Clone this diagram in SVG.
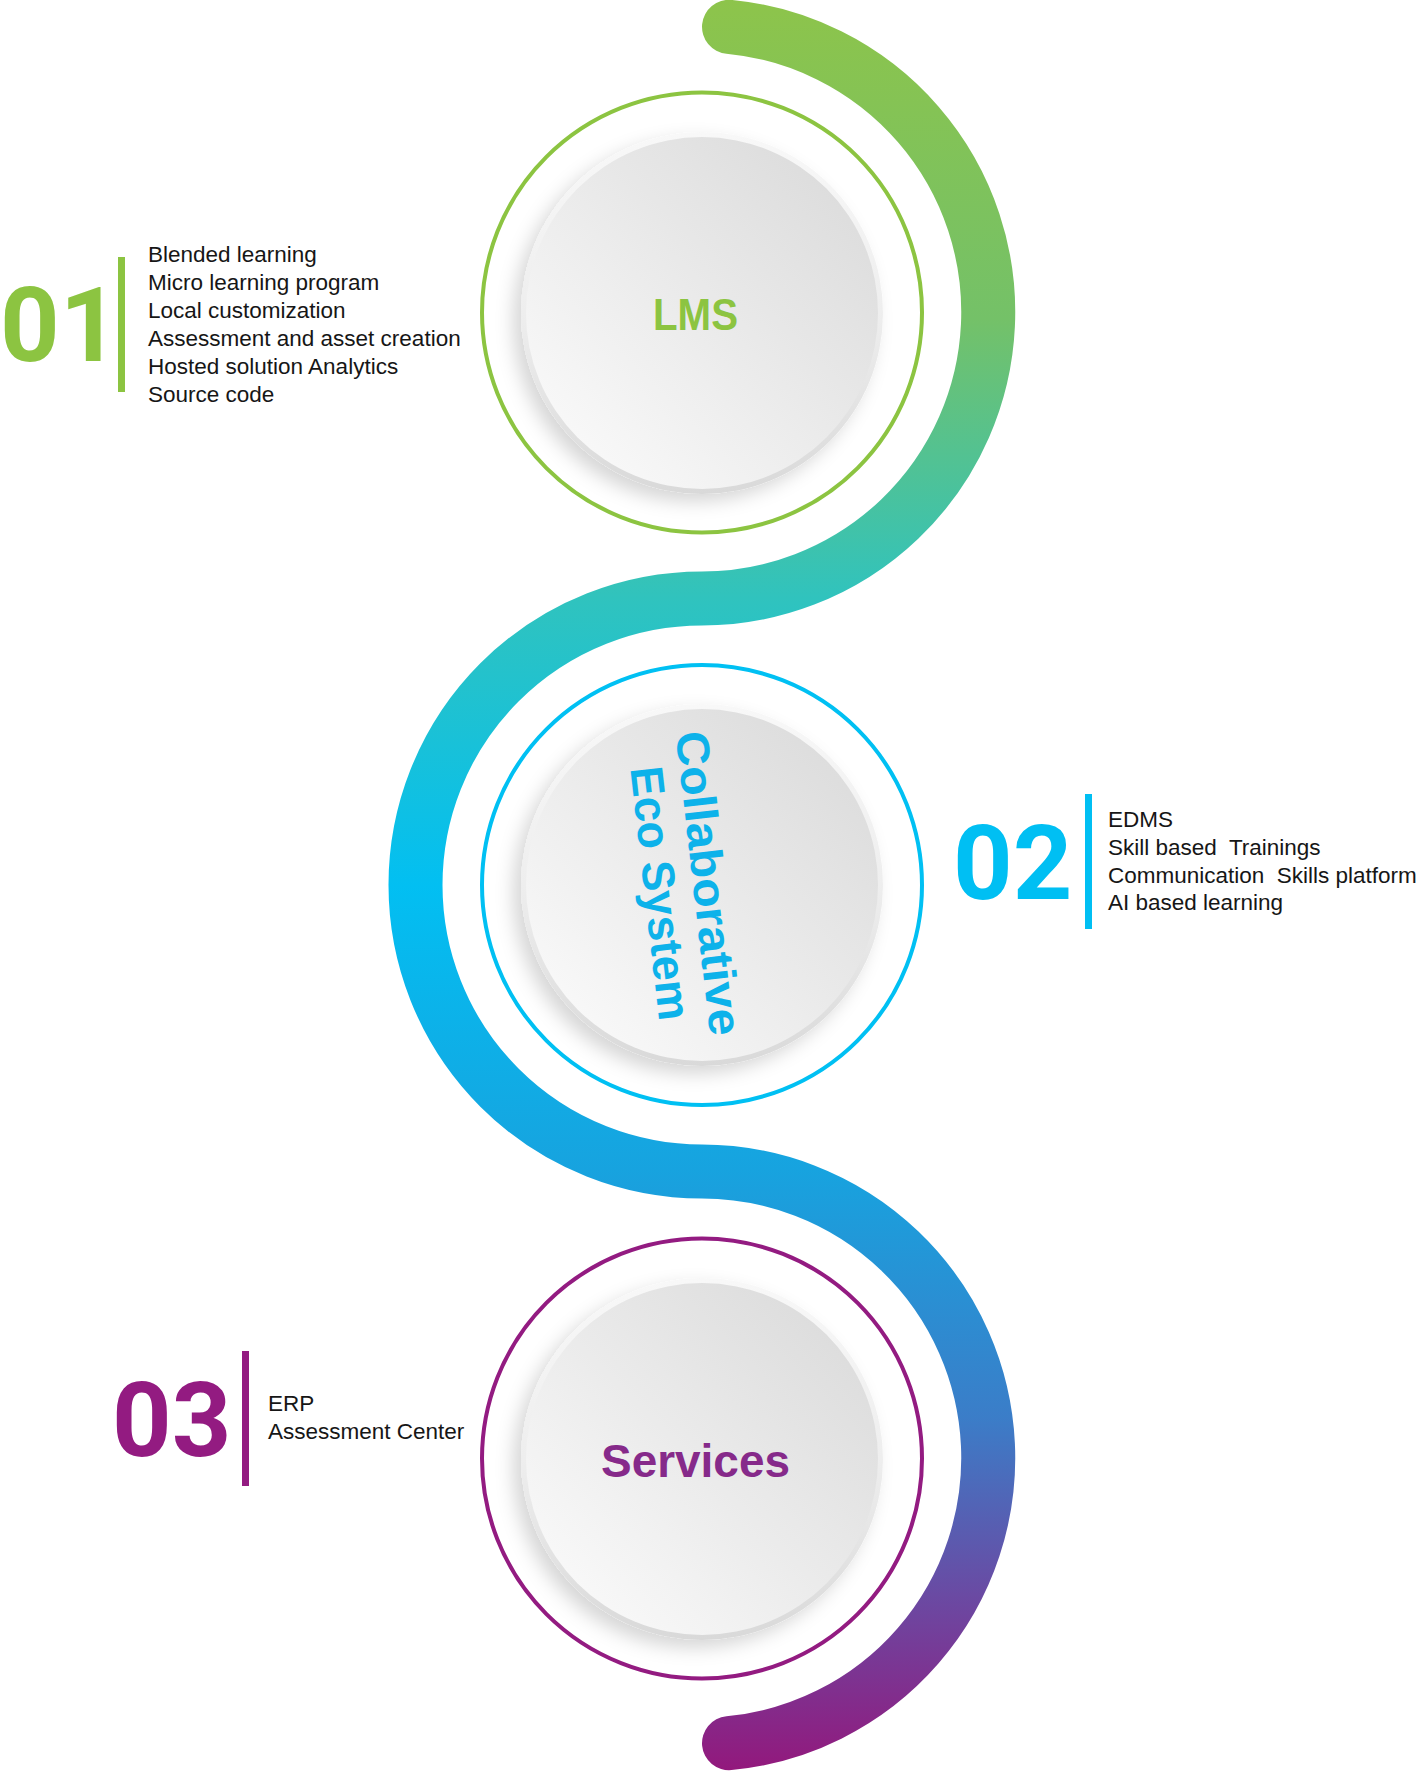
<svg xmlns="http://www.w3.org/2000/svg" width="1422" height="1772" viewBox="0 0 1422 1772">
  <defs>
    <linearGradient id="sGrad" gradientUnits="userSpaceOnUse" x1="0" y1="0" x2="0" y2="1772">
      <stop offset="0" stop-color="#8dc44b"/>
      <stop offset="0.18" stop-color="#74c168"/>
      <stop offset="0.34" stop-color="#2fc3bf"/>
      <stop offset="0.5" stop-color="#02bff2"/>
      <stop offset="0.66" stop-color="#17a3df"/>
      <stop offset="0.8" stop-color="#3b7dc8"/>
      <stop offset="0.9" stop-color="#6a4aa3"/>
      <stop offset="1" stop-color="#93187c"/>
    </linearGradient>
    <linearGradient id="face" x1="1" y1="0" x2="0" y2="1">
      <stop offset="0" stop-color="#d8d8d8"/>
      <stop offset="1" stop-color="#fdfdfd"/>
    </linearGradient>
    <linearGradient id="rim" x1="0" y1="0" x2="0" y2="1">
      <stop offset="0" stop-color="#f8f8f8"/>
      <stop offset="0.5" stop-color="#eeeeee"/>
      <stop offset="1" stop-color="#d9d9d9"/>
    </linearGradient>
    <filter id="shadow" x="-20%" y="-20%" width="140%" height="140%">
      <feDropShadow dx="-8" dy="8" stdDeviation="9" flood-color="#000" flood-opacity="0.16"/>
    </filter>
  </defs>
  <style>
    .ring { fill: none; stroke-width: 4; }
    .list { font-family: "Liberation Sans", Arial, sans-serif; font-size: 22.5px; fill: #161616; }
    .num { font-family: Roboto, "Liberation Sans", sans-serif; font-weight: 700; font-size: 104px; }
    .title { font-family: "Liberation Sans", Arial, sans-serif; font-weight: 700; }
  </style>

  <g id="connectors">
    <path d="M 729 26.8 A 286.5 286.5 0 0 1 702 598.5 A 286.5 286.5 0 0 0 702 1171.5 A 286.5 286.5 0 0 1 729 1743.2" fill="none" stroke="url(#sGrad)" stroke-width="54" stroke-linecap="round"/>
  </g>

  <g id="node-lms">
    <circle class="ring" cx="702" cy="312.5" r="220" stroke="#8cc441"/>
    <circle cx="702" cy="313" r="181" fill="url(#rim)" filter="url(#shadow)"/>
    <circle cx="702" cy="313" r="176" fill="url(#face)"/>
    <text class="title" x="695.5" y="330" font-size="44" fill="#8cc441" text-anchor="middle" textLength="85" lengthAdjust="spacingAndGlyphs">LMS</text>
  </g>

  <g id="node-collab">
    <circle class="ring" cx="702" cy="885" r="220" stroke="#00c0f3"/>
    <circle cx="702" cy="885" r="181" fill="url(#rim)" filter="url(#shadow)"/>
    <circle cx="702" cy="885" r="176" fill="url(#face)"/>
    <g transform="translate(702,885) rotate(83.5)">
      <text class="title" x="-1" y="9" font-size="46" fill="#0db2ea" text-anchor="middle" textLength="306" lengthAdjust="spacingAndGlyphs">Collaborative</text>
      <text class="title" x="3.5" y="58" font-size="46" fill="#0db2ea" text-anchor="middle" textLength="255" lengthAdjust="spacingAndGlyphs">Eco System</text>
    </g>
  </g>

  <g id="node-services">
    <circle class="ring" cx="702" cy="1458.5" r="220" stroke="#931b81"/>
    <circle cx="702" cy="1459" r="181" fill="url(#rim)" filter="url(#shadow)"/>
    <circle cx="702" cy="1459" r="176" fill="url(#face)"/>
    <text class="title" x="695.5" y="1477" font-size="46" fill="#862a8a" text-anchor="middle" textLength="189" lengthAdjust="spacingAndGlyphs">Services</text>
  </g>

  <g id="label-01">
    <text class="num" x="0" y="361" fill="#8cc441">01</text>
    <rect x="118" y="257" width="7" height="135" fill="#8cc441"/>
    <text class="list" x="148" y="262">Blended learning</text>
    <text class="list" x="148" y="290">Micro learning program</text>
    <text class="list" x="148" y="318">Local customization</text>
    <text class="list" x="148" y="346">Assessment and asset creation</text>
    <text class="list" x="148" y="374">Hosted solution Analytics</text>
    <text class="list" x="148" y="402">Source code</text>
  </g>

  <g id="label-02">
    <text class="num" x="953" y="899" fill="#00bff3">02</text>
    <rect x="1085" y="794" width="7" height="135" fill="#00bff3"/>
    <text class="list" x="1108" y="827">EDMS</text>
    <text class="list" x="1108" y="855" xml:space="preserve">Skill based  Trainings</text>
    <text class="list" x="1108" y="883" xml:space="preserve">Communication  Skills platform</text>
    <text class="list" x="1108" y="910">AI based learning</text>
  </g>

  <g id="label-03">
    <text class="num" x="112" y="1456" fill="#931b81">03</text>
    <rect x="242" y="1351" width="7" height="135" fill="#931b81"/>
    <text class="list" x="268" y="1411">ERP</text>
    <text class="list" x="268" y="1439">Assessment Center</text>
  </g>
</svg>
